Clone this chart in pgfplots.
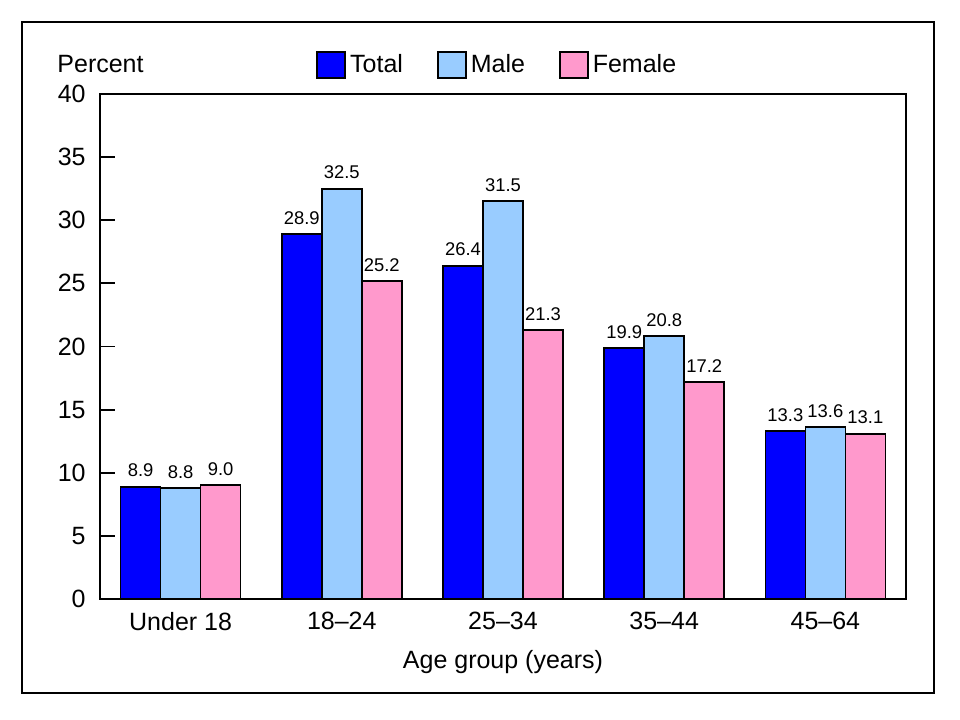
\documentclass[border=0pt]{standalone}
\usepackage{pgfplots}
\pgfplotsset{compat=1.18}
\usepackage{fontspec}
\setmainfont{Liberation Sans}

\definecolor{totalc}{RGB}{0,0,255}
\definecolor{malec}{RGB}{153,204,255}
\definecolor{femalec}{RGB}{255,153,204}

\pgfplotsset{
  boxlegend/.style={legend image code/.code={
      \draw[##1, line width=0.9pt] (0pt,-6.5pt) rectangle (14pt,6.5pt);}},
}

\begin{document}
\begin{tikzpicture}
\begin{axis}[
    scale only axis,
    width=403pt, height=252.5pt,
    ybar=0pt, bar width=20pt,
    xmin=-0.5, xmax=4.5,
    ymin=0, ymax=40,
    xtick={0,1,2,3,4},
    xticklabels={Under 18, 18--24, 25--34, 35--44, 45--64},
    ytick={0,5,...,40},
    x tick style={draw=none},
    ytick pos=left,
    tick align=inside,
    major tick length=7.5pt,
    y tick style={line width=0.9pt, black},
    axis line style={line width=1pt},
    /pgf/number format/assume math mode=true,
    tick label style={font=\fontsize{12.5}{14}\selectfont},
    yticklabel style={inner sep=0pt, xshift=-7pt},
    xticklabel style={yshift=-3pt},
    xlabel={Age group (years)},
    xlabel style={font=\fontsize{12.5}{14}\selectfont, yshift=-3pt},
    nodes near coords,
    nodes near coords style={font=\fontsize{9.2}{11}\selectfont,
        /pgf/number format/.cd, fixed, fixed zerofill, precision=1,
        /pgf/number format/assume math mode=true, /tikz/.cd, yshift=1pt},
    legend columns=3,
    legend style={at={(rel axis cs:0.268,1.057)}, anchor=west,
        draw=none, fill=none, inner sep=0pt,
        font=\fontsize{12.5}{14}\selectfont,
        /tikz/every even column/.append style={column sep=15pt}},
    clip=false,
]
\addplot[boxlegend, fill=totalc, draw=black, line width=0.9pt]
    coordinates {(0,8.9)(1,28.9)(2,26.4)(3,19.9)(4,13.3)};
\addlegendentry{Total}
\addplot[boxlegend, fill=malec, draw=black, line width=0.9pt]
    coordinates {(0,8.8)(1,32.5)(2,31.5)(3,20.8)(4,13.6)};
\addlegendentry{Male}
\addplot[boxlegend, fill=femalec, draw=black, line width=0.9pt]
    coordinates {(0,9.0)(1,25.2)(2,21.3)(3,17.2)(4,13.1)};
\addlegendentry{Female}

\node[anchor=west, inner sep=0pt, font=\fontsize{12.5}{14}\selectfont]
    at (rel axis cs:-0.0533,1.0594) {Percent};
% outer frame and page size
\draw[line width=1pt] (rel axis cs:-0.0968,-0.1861) rectangle (rel axis cs:1.0347,1.1426);
\coordinate (bl) at (rel axis cs:-0.12407,-0.2396);
\coordinate (tr) at (rel axis cs:1.0670,1.18614);
\end{axis}
\path (bl) rectangle (tr);
\end{tikzpicture}
\end{document}
